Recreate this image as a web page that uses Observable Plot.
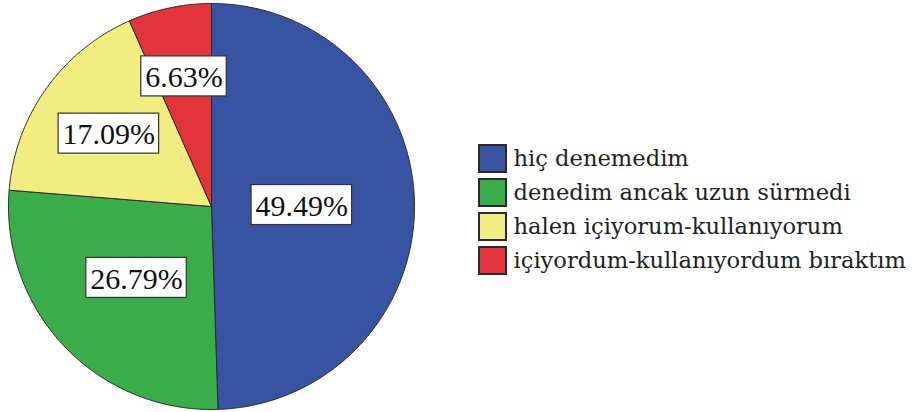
<!DOCTYPE html>
<html>
<head>
<meta charset="utf-8">
<script src="https://cdn.jsdelivr.net/npm/d3@7"></script>
<script src="https://cdn.jsdelivr.net/npm/@observablehq/plot@0.6"></script>
<style>
  html, body { margin: 0; padding: 0; background: #fff; }
  #chart svg { display: block; }
</style>
</head>
<body>
<div id="chart"></div>
<script>
// ---- data ----
const categories = [
  "hiç denemedim",
  "denedim ancak uzun sürmedi",
  "halen içiyorum-kullanıyorum",
  "içiyordum-kullanıyordum bıraktım"
];
const percents = [49.49, 26.79, 17.09, 6.63];
const colors = ["#3953a3", "#3aad4a", "#f1ed80", "#e3333b"];

// ---- layout (pixel frame) ----
const W = 914, H = 412;
const cx = 211, cy = 206, R = 203;
const labelRadius = [0.445, 0.51, 0.62, 0.655];   // fraction of R along slice mid-angle
const labelFont = 30, labelFamily = "Liberation Serif";
const legX = 479, legY = 145, legSize = 27, legStep = 34;

// slice polygons
const total = d3.sum(percents);
let cum = 0;
const slices = percents.map((p, i) => {
  const a0 = cum / total * 2 * Math.PI;
  cum += p;
  const a1 = cum / total * 2 * Math.PI;
  const pts = [{x: cx, y: cy}];
  const n = Math.max(2, Math.ceil((a1 - a0) / (Math.PI / 360)));
  for (let k = 0; k <= n; k++) {
    const a = a0 + (a1 - a0) * k / n;
    pts.push({x: cx + R * Math.sin(a), y: cy - R * Math.cos(a)});
  }
  pts.push({x: cx, y: cy});
  const am = (a0 + a1) / 2;
  return {i, pts, am};
});

// labels
const canvas = document.createElement("canvas");
const ctx = canvas.getContext("2d");
ctx.font = `${labelFont}px "${labelFamily}"`;
const labels = slices.map(s => {
  const text = percents[s.i].toFixed(2) + "%";
  const r = R * labelRadius[s.i];
  const x = cx + r * Math.sin(s.am), y = cy - r * Math.cos(s.am);
  const w = ctx.measureText(text).width + 8;
  return {text, x, y, x1: x - w / 2, x2: x + w / 2, y1: y - 20, y2: y + 20};
});

const legend = categories.map((c, i) => ({
  name: c, color: colors[i],
  x1: legX, x2: legX + legSize,
  y1: legY + i * legStep, y2: legY + i * legStep + legSize,
  ty: legY + i * legStep + legSize / 2
}));

const marks = [];
slices.forEach(s => {
  marks.push(Plot.line(s.pts, {x: "x", y: "y", fill: colors[s.i], stroke: "#2a2a2a", strokeWidth: 1, curve: "linear"}));
});
marks.push(Plot.rect(labels, {x1: "x1", x2: "x2", y1: "y1", y2: "y2", fill: "white", stroke: "#333", strokeWidth: 1.2}));
marks.push(Plot.text(labels, {x: "x", y: "y", text: "text", fontSize: labelFont, fontFamily: labelFamily, fill: "#111", dy: 1}));
marks.push(Plot.rect(legend, {x1: "x1", x2: "x2", y1: "y1", y2: "y2", fill: "color", stroke: "#2a2a2a", strokeWidth: 2}));
marks.push(Plot.text(legend, {x: legX + legSize + 7, y: "ty", text: "name", textAnchor: "start", fontSize: 22.6, fontFamily: "DejaVu Serif", fill: "#222"}));

const chart = Plot.plot({
  width: W, height: H, margin: 0,
  x: {domain: [0, W], range: [0, W], axis: null},
  y: {domain: [0, H], range: [0, H], axis: null},
  color: {type: "identity"},
  style: {background: "white"},
  marks
});
document.getElementById("chart").appendChild(chart);
</script>
</body>
</html>
